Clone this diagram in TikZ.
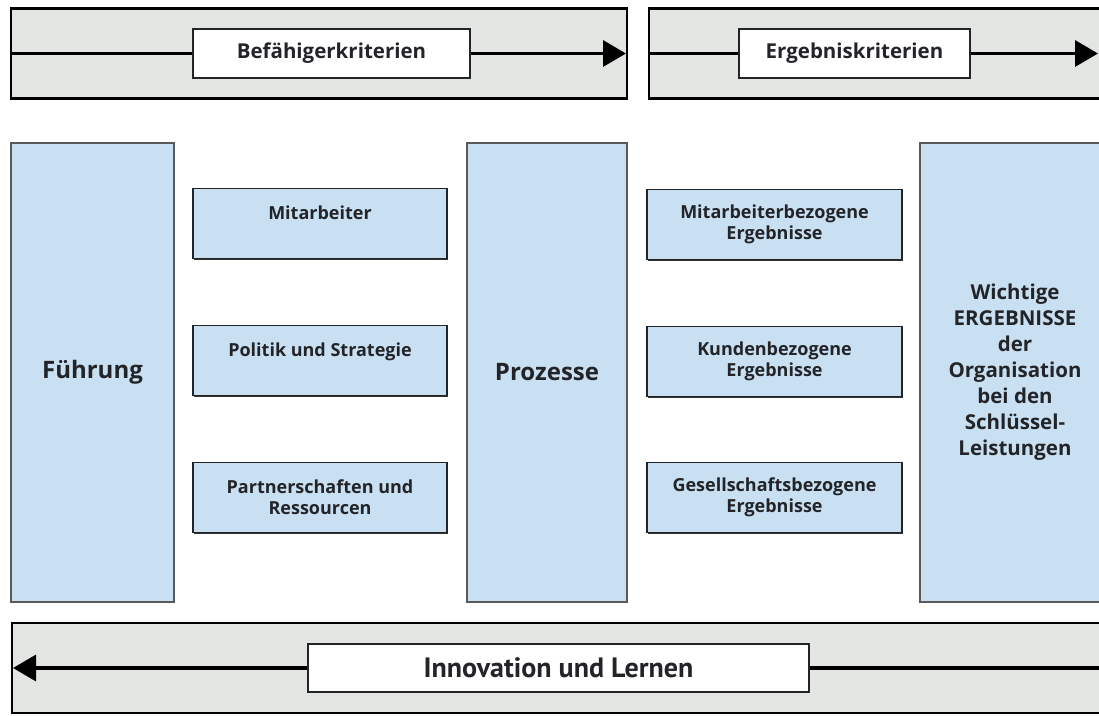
\documentclass[tikz,border=0pt]{standalone}
\usepackage{fontspec}
\setmainfont{Open Sans}
\newfontfamily\lernfont{PT Sans}
\usepackage{tikz}
\usetikzlibrary{arrows.meta, positioning, calc, shadows}

\definecolor{bargrey}{RGB}{227,229,226}
\definecolor{critblue}{RGB}{201,223,242}
\definecolor{inkdark}{RGB}{34,36,40}

\begin{document}
\begin{tikzpicture}[
  x=1pt, y=-1pt,
  bar/.style = {draw=black, line width=2.4pt, fill=bargrey, minimum height=90pt},
  tagbox/.style = {draw=inkdark, line width=1.4pt, fill=white, minimum height=49pt,
    font=\bfseries\fontsize{20.5}{22}\selectfont, text=inkdark},
  column/.style = {draw=black!65, line width=1.4pt, fill=critblue, minimum height=459pt,
    align=center, text=inkdark},
  critbox/.style = {draw=inkdark, line width=1.2pt, fill=critblue, minimum height=70pt,
    align=center, font=\bfseries\fontsize{18}{21}\selectfont, text=inkdark,
    drop shadow={shadow xshift=1.3pt, shadow yshift=-1.3pt, fill=black!80, opacity=1}},
  arrow/.style = {line width=3.4pt, -{Triangle[length=23pt, width=26pt]}},
  plain/.style = {line width=3.4pt}
]
  \useasboundingbox (0,0) rectangle (1099,715);
  \clip (0,0) rectangle (1099,715);

  % ======================================================
  % Top bars: enablers and results
  % ======================================================
  \node[bar, minimum width=616pt] (enablerbar) at (319,53.5) {};
  \node[bar, minimum width=463pt] (resultbar) at (880.5,53.5) {};
  \node[tagbox, minimum width=277pt] (enablertag) at (331.5,53.5) {Befähigerkriterien};
  \node[tagbox, minimum width=231pt] (resulttag) at (854.5,53.5) {Ergebniskriterien};

  \coordinate (enablertip) at (626,53.5);
  \coordinate (resulttip) at (1098,53.5);
  \draw[plain] (enablerbar.west) -- (enablertag.west);
  \draw[arrow] (enablertag.east) -- (enablertip);
  \draw[plain] (resultbar.west) -- (resulttag.west);
  \draw[arrow] (resulttag.east) -- (resulttip);

  % ======================================================
  % Tall columns
  % ======================================================
  \node[column, minimum width=163pt, font=\bfseries\fontsize{24}{28}\selectfont]
    (fuehrung) at (92.5,372.5) {Führung};
  \node[column, minimum width=160pt, font=\bfseries\fontsize{24}{28}\selectfont]
    (prozesse) at (547,372.5) {Prozesse};
  \node[column, minimum width=190pt, font=\bfseries\fontsize{20.5}{26}\selectfont]
    (ergebnisse) at (1015,372.5)
    {Wichtige\\ERGEBNISSE\\der\\Organisation\\bei den\\Schlüssel-\\Leistungen};

  % Enabler criteria
  \node[critbox, minimum width=254pt] (mitarbeiter) at (320,223.5) {Mitarbeiter\\~};
  \node[critbox, minimum width=254pt] (politik) at (320,360.5) {Politik und Strategie\\~};
  \node[critbox, minimum width=254pt] (partner) at (320,497.5)
    {Partnerschaften und\\Ressourcen};

  % Result criteria
  \node[critbox, minimum width=255pt] (mitarbeitererg) at (774.5,224.5)
    {Mitarbeiterbezogene\\Ergebnisse};
  \node[critbox, minimum width=255pt] (kundenerg) at (774.5,361.5)
    {Kundenbezogene\\Ergebnisse};
  \node[critbox, minimum width=255pt] (gesellerg) at (774.5,497.5)
    {Gesellschaftsbezogene\\Ergebnisse};

  % ======================================================
  % Bottom bar: innovation feedback
  % ======================================================
  \node[bar, minimum width=1100pt] (lernbar) at (562,668) {};
  \node[tagbox, minimum width=501pt, minimum height=48pt,
    font=\lernfont\bfseries\fontsize{28}{30}\selectfont] (lerntag) at (558.5,668)
    {Innovation und Lernen};
  \coordinate (lerntip) at (13,668);
  \draw[plain] (lernbar.east) -- (lerntag.east);
  \draw[arrow] (lerntag.west) -- (lerntip);

\end{tikzpicture}
\end{document}
